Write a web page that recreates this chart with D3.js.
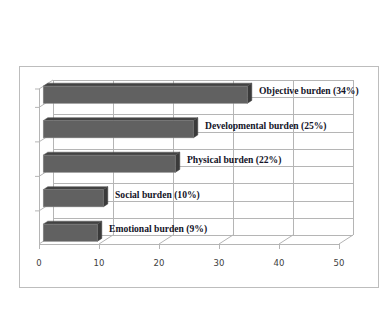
<!DOCTYPE html>
<html>
<head>
<meta charset="utf-8">
<script src="https://cdn.jsdelivr.net/npm/d3@7"></script>
<style>
  body { margin: 0; background: #fff; }
  svg { display: block; }
</style>
</head>
<body>
<script>
// data
var categories = ["Objective burden", "Developmental burden", "Physical burden", "Social burden", "Emotional burden"];
var values = [34, 25, 22, 10, 9];
var xTicks = [0, 10, 20, 30, 40, 50];

var svgWidth = 385;
var svgHeight = 333;

// oblique 3D offset for a full depth step
var DX = 14, DY = -9;
var floorFront = 244, floorBack = floorFront + DY, wallTop = 80;

var svg = d3.select("body").append("svg")
  .attr("width", svgWidth)
  .attr("height", svgHeight);

// outer frame
svg.append("rect")
  .attr("x", 19.5).attr("y", 66.5)
  .attr("width", 359).attr("height", 221)
  .attr("fill", "none").attr("stroke", "#bdbdbd");

var x = d3.scaleLinear().domain([0, 50]).range([39, 339]);
var y = d3.scaleBand().domain(categories).range([77.5, 250])
  .paddingInner(0.5).paddingOuter(0.25);

var grid = svg.append("g")
  .attr("stroke", "#b5b5b5").attr("stroke-width", 1).attr("fill", "none");

// back wall horizontal lines
var backLines = d3.scaleLinear().domain([0, 9]).range([wallTop, floorBack]);
d3.range(10).forEach(function(i) {
  var yy = Math.round(backLines(i)) + 0.5;
  grid.append("line").attr("x1", x(0) + DX).attr("x2", x(50) + DX).attr("y1", yy).attr("y2", yy);
});

// back wall vertical gridlines
xTicks.forEach(function(t) {
  grid.append("line")
    .attr("x1", x(t) + DX + 0.5).attr("x2", x(t) + DX + 0.5)
    .attr("y1", wallTop).attr("y2", floorBack);
});

// floor
grid.append("line").attr("x1", x(0)).attr("x2", x(50)).attr("y1", floorFront + 0.5).attr("y2", floorFront + 0.5);
xTicks.forEach(function(t) {
  grid.append("line")
    .attr("x1", x(t)).attr("y1", floorFront)
    .attr("x2", x(t) + DX).attr("y2", floorBack);
  grid.append("line")
    .attr("x1", x(t) + 0.5).attr("x2", x(t) + 0.5)
    .attr("y1", floorFront).attr("y2", floorFront + 5);
});

// left wall
grid.append("line").attr("x1", x(0) + 0.5).attr("x2", x(0) + 0.5).attr("y1", wallTop - DY).attr("y2", floorFront);
grid.append("line").attr("x1", x(0)).attr("y1", wallTop - DY).attr("x2", x(0) + DX).attr("y2", wallTop);
categories.forEach(function(c, i) {
  if (i == categories.length - 1) return;
  var yy = y(c) + y.bandwidth() + 4;
  grid.append("line").attr("x1", x(0)).attr("y1", yy).attr("x2", x(0) + DX).attr("y2", yy + DY);
  grid.append("line").attr("x1", x(0) - 4).attr("y1", yy).attr("x2", x(0)).attr("y2", yy);
});
grid.append("line").attr("x1", x(0) - 4).attr("y1", wallTop - DY).attr("x2", x(0)).attr("y2", wallTop - DY);

// bars
var d0 = 0.3, dd = 0.33;
var bx = DX * dd, by = DY * dd;
var bars = svg.append("g");
categories.forEach(function(c, i) {
  var x0 = x(0) + d0 * DX, x1 = x(values[i]) + d0 * DX;
  var y0 = y(c), y1 = y(c) + y.bandwidth();
  // top face
  bars.append("polygon")
    .attr("points", [[x0, y0], [x1, y0], [x1 + bx, y0 + by], [x0 + bx, y0 + by]].join(" "))
    .attr("fill", "#424242").attr("stroke", "#555").attr("stroke-width", 0.5);
  // end face
  bars.append("polygon")
    .attr("points", [[x1, y0], [x1 + bx, y0 + by], [x1 + bx, y1 + by], [x1, y1]].join(" "))
    .attr("fill", "#3a3a3a").attr("stroke", "#4a4a4a").attr("stroke-width", 0.5);
  // front face
  bars.append("rect")
    .attr("x", x0).attr("y", y0)
    .attr("width", x1 - x0).attr("height", y1 - y0)
    .attr("fill", "#616161").attr("stroke", "#8a8a8a").attr("stroke-width", 0.5);
});

// data labels
var labels = svg.append("g")
  .attr("font-family", "'Liberation Serif', 'Times New Roman', serif")
  .attr("font-size", 9.6).attr("font-weight", "bold").attr("fill", "#141428");
categories.forEach(function(c, i) {
  labels.append("text")
    .attr("x", x(values[i]) + 16)
    .attr("y", y(c) + y.bandwidth() / 2 - 2.5)
    .attr("dominant-baseline", "middle")
    .text(c + " (" + values[i] + "%)");
});

// value axis labels
svg.append("g")
  .attr("font-family", "'DejaVu Sans', Verdana, sans-serif")
  .attr("font-size", 8.5).attr("fill", "#404040")
  .selectAll("text").data(xTicks).enter().append("text")
  .attr("x", function(d) { return x(d); })
  .attr("y", 263)
  .attr("text-anchor", "middle")
  .attr("dominant-baseline", "middle")
  .text(function(d) { return d; });
</script>
</body>
</html>
